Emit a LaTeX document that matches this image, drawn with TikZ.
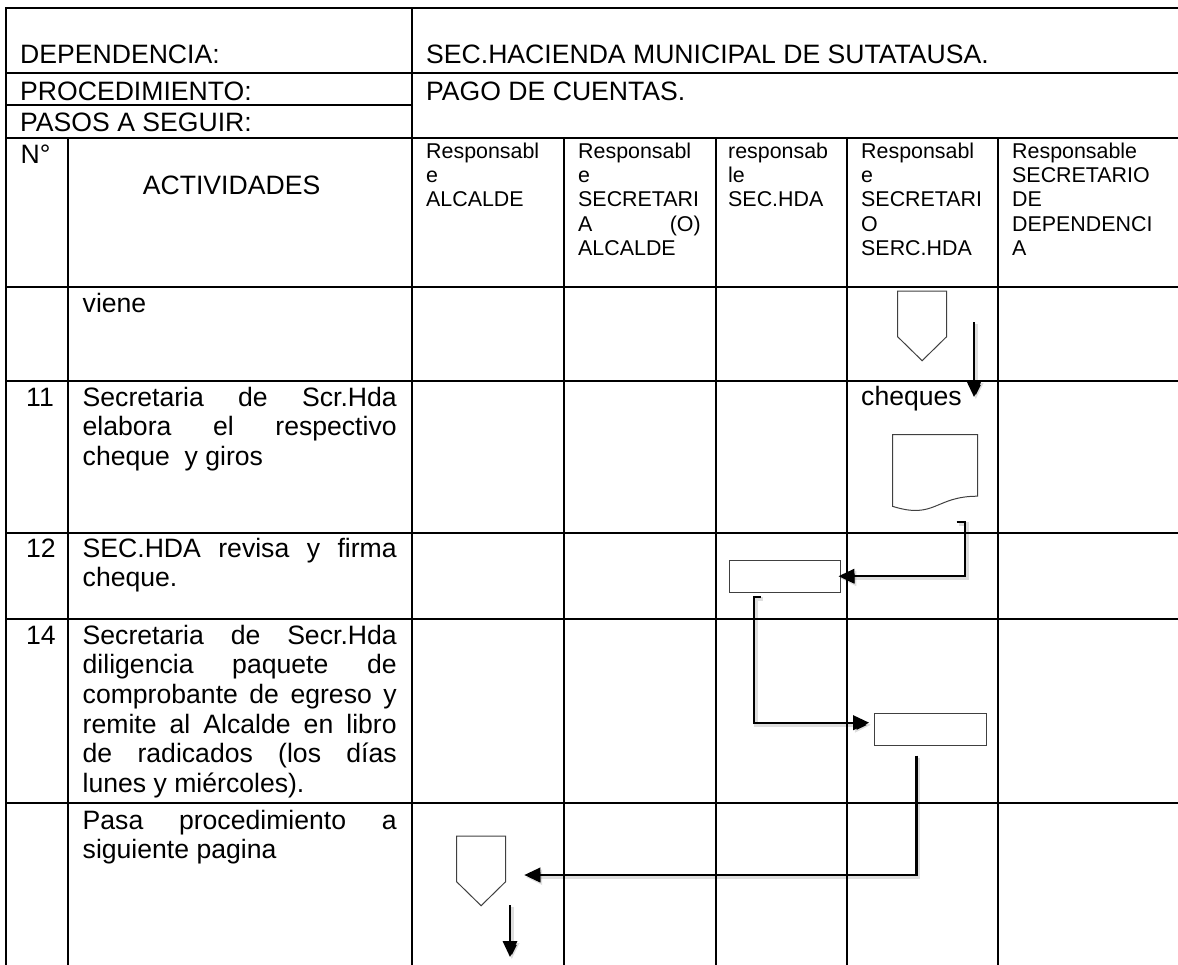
\documentclass[tikz,border=0pt]{standalone}
\usepackage{fontspec}
\setmainfont{Liberation Sans}
\usetikzlibrary{arrows.meta}
\hyphenpenalty=10000
\exhyphenpenalty=10000
\tikzset{
    % table rules
    rejilla/.style={line width=2pt, line cap=rect},
    % large body text, placed by its baseline
    grande/.style={font=\fontsize{26.6}{29.7}\selectfont, inner sep=0pt, anchor=base west},
    % justified activity text in the second column
    actividad/.style={grande, text width=314pt, align=justify},
    % small header text of the responsible columns
    rol/.style={font=\fontsize{21.4}{24.3}\selectfont, inner sep=0pt, anchor=base west,
                text width=160pt, align=left},
    % thin outline of the flowchart symbols
    figura/.style={draw=black!75, line width=1pt},
    caja/.style={figura, minimum width=111.5pt, minimum height=32pt, inner sep=0pt},
    % elbow connectors, with a faint drop shadow
    flecha/.style={line width=2.2pt, -{Triangle[length=16pt, width=14.5pt]},
                   preaction={draw=black, draw opacity=0.13, line width=3.5pt,
                              transform canvas={shift={(1.8pt,-2.2pt)}}}},
}
% off-page connector, top left corner at (#1,#2)
\newcommand{\salida}[2]{\draw[figura] (#1,#2) -- ++(49,0) -- ++(0,45.7)
    -- ++(-24.5,24) -- ++(-24.5,-24) -- cycle;}

\begin{document}
\begin{tikzpicture}[x=1pt, y=-1pt]
    \useasboundingbox (0,0) rectangle (1178,964);

    % ===== table =====
    \foreach \y in {7.5,72.7,138,286.7,380.7,532.5,619,803.3}
        \draw[rejilla] (6,\y) -- (1178,\y);
    \draw[rejilla] (6,105) -- (412,105);
    \foreach \x in {6,412}
        \draw[rejilla] (\x,7.5) -- (\x,964);
    \foreach \x in {67.7,564,716,847,998}
        \draw[rejilla] (\x,138) -- (\x,964);

    % ===== heading =====
    \node[grande] (dependencia) at (20,63) {DEPENDENCIA:};
    \node[grande] (hacienda) at (426,63) {SEC.HACIENDA MUNICIPAL DE SUTATAUSA.};
    \node[grande] (procedimiento) at (20,100) {PROCEDIMIENTO:};
    \node[grande] (pago) at (426,100) {PAGO DE CUENTAS.};
    \node[grande] (pasos) at (20,131) {PASOS A SEGUIR:};

    \node[grande] (numero) at (20.5,163.3) {N°};
    \node[grande] (actividades) at (142.7,194) {ACTIVIDADES};
    \node[rol] (alcalde) at (426,158.3) {Responsabl\\e\\ALCALDE};
    \node[rol, text width=122.5pt] (secalcalde) at (578,158.3)
        {Responsabl\\e\\SECRETARI\\\makebox[\linewidth]{A\hfill(O)}\\ALCALDE};
    \node[rol] (sechda) at (728,158.3) {responsab\\le\\SEC.HDA};
    \node[rol] (secserc) at (861,158.3) {Responsabl\\e\\SECRETARI\\O\\SERC.HDA};
    \node[rol] (secdep) at (1012,158.3) {Responsable\\SECRETARIO\\DE\\DEPENDENCI\\A};

    % ===== activities =====
    \node[grande] (viene) at (82.5,312) {viene};
    \node[grande] (n11) at (26,406) {11};
    \node[actividad] (paso11) at (82.5,406)
        {Secretaria de Scr.Hda\linebreak elabora el respectivo\linebreak cheque~~y giros};
    \node[grande] (n12) at (26,557) {12};
    \node[actividad] (paso12) at (82.5,557)
        {SEC.HDA revisa y firma\linebreak cheque.};
    \node[grande] (n14) at (26,644) {14};
    \node[actividad] (paso14) at (82.5,644)
        {Secretaria de Secr.Hda\linebreak diligencia paquete de\linebreak
         comprobante de egreso y\linebreak remite al Alcalde en libro\linebreak
         de radicados (los días\linebreak lunes y miércoles).};
    \node[actividad] (pasa) at (82.5,829)
        {Pasa procedimiento a\linebreak siguiente pagina};

    % ===== flowchart symbols =====
    \salida{897.6}{291}
    \node[grande] (cheques) at (861,405) {cheques};
    \draw[figura] (892.5,434.5) -- (977.5,434.5) -- (977.5,496.2)
        .. controls (935,496.2) and (935,519.8) .. (892.5,506.3) -- cycle;
    \node[caja] (firma) at (785.2,576.2) {};
    \node[caja] (paquete) at (930.4,729.7) {};
    \salida{456.6}{836}

    % ===== connectors =====
    \coordinate (vieneSal) at (974,322);
    \coordinate (chequesEnt) at (974,397);
    \draw[flecha] (vieneSal) -- (chequesEnt);

    \coordinate (docSal) at (956.7,521.7);
    \draw[flecha] (docSal) -- ++(8.5,0) |- ([xshift=-3pt]firma.east);

    \coordinate (firmaSal) at (761,597);
    \draw[flecha] (firmaSal) -- ++(-7,0) |- ([xshift=-5pt, yshift=7pt]paquete.west);

    \coordinate (paqueteSal) at (916.4,755.7);
    \coordinate (paginaEnt) at (524.3,875);
    \draw[flecha] (paqueteSal) |- (paginaEnt);

    \coordinate (paginaSal) at (510,905);
    \coordinate (siguiente) at (510,957);
    \draw[flecha, line width=1.7pt] (paginaSal) -- (siguiente);

\end{tikzpicture}
\end{document}
